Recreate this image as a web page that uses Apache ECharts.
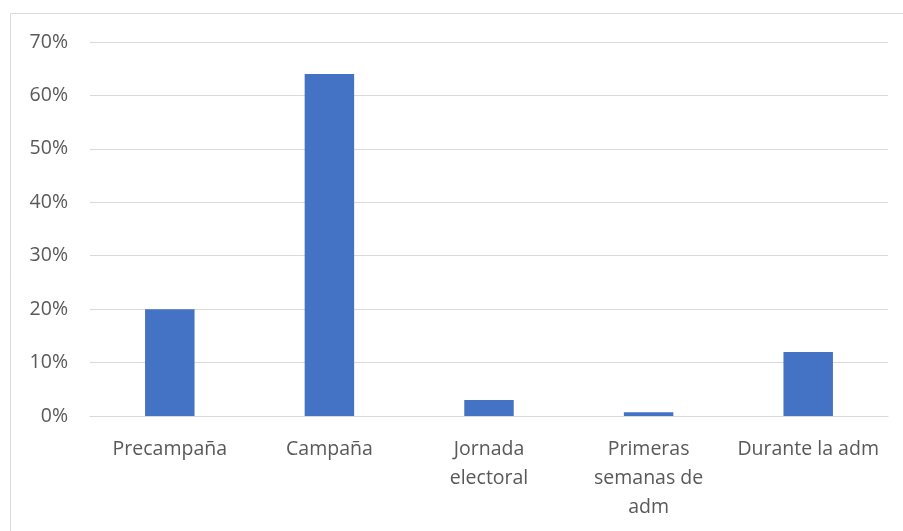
<!DOCTYPE html>
<html><head><meta charset="utf-8">
<script src="https://cdn.jsdelivr.net/npm/echarts@6/dist/echarts.min.js"></script>
<style>html,body{margin:0;padding:0;background:#fff}#c{width:903px;height:531px}</style>
</head><body><div id="c"></div>
<script>
const categories = ['Precampaña', 'Campaña', 'Jornada\nelectoral', 'Primeras\nsemanas de\nadm', 'Durante la adm'];
const values = [20, 64, 3, 0.7, 12];
const yTicks = [0, 10, 20, 30, 40, 50, 60, 70];

const chart = echarts.init(document.getElementById('c'));
const font = 'Open Sans, Noto Sans, sans-serif';
chart.setOption({
  animation: false,
  backgroundColor: '#fff',
  graphic: [{type: 'rect', left: 8, top: 11, shape: {width: 905, height: 540}, style: {fill: 'none', stroke: '#D9D9D9', lineWidth: 1}}],
  grid: {left: 90, right: 15, top: 42, bottom: 115},
  xAxis: {
    type: 'category', data: categories,
    axisLine: {lineStyle: {color: '#D9D9D9', width: 1}},
    axisTick: {show: false},
    axisLabel: {color: '#595959', fontSize: 19.5, fontFamily: font, margin: 19, lineHeight: 29, interval: 0}
  },
  yAxis: {
    type: 'value', min: yTicks[0], max: yTicks[yTicks.length - 1], interval: 10,
    axisLine: {show: false}, axisTick: {show: false},
    splitLine: {lineStyle: {color: '#D9D9D9', width: 1}},
    axisLabel: {color: '#595959', fontSize: 19.5, fontFamily: font, margin: 22, formatter: v => v + '%'}
  },
  series: [{type: 'bar', data: values, barWidth: '31%', itemStyle: {color: '#4472C4'}}]
});
</script></body></html>
